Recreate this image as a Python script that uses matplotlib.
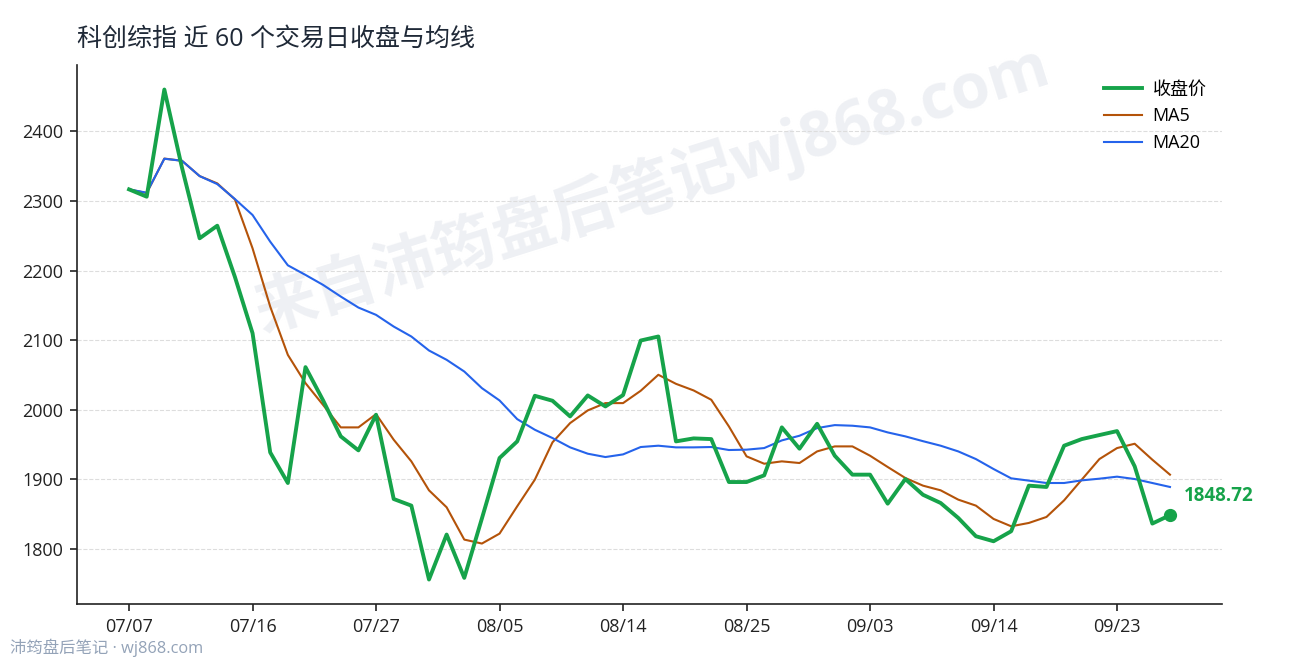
import matplotlib
matplotlib.use("Agg")
import matplotlib.pyplot as plt
import numpy as np

plt.rcParams['font.family'] = ['Open Sans', 'Noto Sans CJK SC', 'DejaVu Sans']

# 收盘价 (60 trading days)
close = [2316.8, 2306.3, 2460.3, 2348.0, 2246.5, 2264.6, 2191.0, 2110.1, 1938.9, 1894.9,
         2061.4, 2013.5, 1961.9, 1941.8, 1993.0, 1871.9, 1862.4, 1756.2, 1820.8, 1758.6,
         1844.0, 1930.8, 1954.7, 2020.2, 2013.1, 1990.6, 2020.7, 2004.9, 2021.2, 2099.6,
         2105.4, 1954.7, 1959.0, 1958.0, 1896.3, 1896.3, 1905.9, 1974.8, 1944.2, 1980.0,
         1934.1, 1906.9, 1906.9, 1865.2, 1900.6, 1878.0, 1866.2, 1844.7, 1818.4, 1811.2,
         1825.6, 1891.1, 1889.2, 1948.5, 1958.0, 1963.8, 1969.5, 1918.8, 1836.6, 1848.72]

ma5 = [2316.8, 2311.5, 2361.1, 2357.9, 2335.9, 2325.4, 2302.4, 2232.1, 2148.4, 2079.0,
       2038.4, 2007.0, 1974.8, 1974.8, 1993.9, 1957.1, 1926.0, 1884.4, 1860.0, 1813.6,
       1807.9, 1822.2, 1861.4, 1899.7, 1953.3, 1981.0, 1999.2, 2009.7, 2009.7, 2027.4,
       2050.4, 2037.4, 2027.9, 2014.5, 1976.2, 1933.2, 1922.6, 1926.0, 1923.6, 1940.3,
       1947.5, 1947.5, 1934.1, 1917.9, 1902.1, 1891.1, 1884.4, 1871.0, 1862.4, 1843.3,
       1832.7, 1837.5, 1846.1, 1870.0, 1899.7, 1929.3, 1945.1, 1951.3, 1928.4, 1906.9]

ma20 = [2316.8, 2312.0, 2360.8, 2357.9, 2335.9, 2324.4, 2302.9, 2280.0, 2241.7, 2207.7,
        2193.9, 2179.5, 2162.8, 2147.0, 2136.5, 2119.7, 2105.4, 2085.3, 2071.9, 2055.1,
        2031.2, 2013.5, 1986.7, 1971.4, 1959.5, 1946.1, 1937.0, 1932.2, 1936.0, 1946.6,
        1948.5, 1946.1, 1946.1, 1946.6, 1942.3, 1942.8, 1945.1, 1956.1, 1962.8, 1973.8,
        1978.1, 1977.2, 1974.8, 1967.6, 1961.9, 1955.0, 1948.5, 1940.3, 1929.3, 1915.0,
        1901.6, 1898.3, 1894.9, 1894.9, 1898.7, 1901.1, 1904.0, 1900.6, 1894.9, 1889.2]

tick_labels = ["07/07", "07/16", "07/27", "08/05", "08/14", "08/25", "09/03", "09/14", "09/23"]

GREEN = "#16a34a"
ORANGE = "#b45309"
BLUE = "#2563eb"

x = np.arange(len(close))

fig = plt.figure(figsize=(12.9, 6.6), dpi=100)
ax = fig.add_axes([0.0597, 0.0848, 0.8876, 0.8167])

# watermark
ax.text(0.505, 0.715, "来自沛筠盘后笔记wj868.com", transform=fig.transFigure,
        fontsize=45, fontweight="bold", color="#eef0f4", rotation=17.5,
        ha="center", va="center", rotation_mode="anchor", zorder=0.1)

ax.plot(x, close, color=GREEN, lw=2.8, label="收盘价", zorder=3)
ax.plot(x, ma5, color=ORANGE, lw=1.5, label="MA5", zorder=2)
ax.plot(x, ma20, color=BLUE, lw=1.5, label="MA20", zorder=2)

ax.plot(x[-1], close[-1], "o", color=GREEN, ms=8.5, zorder=4)
ax.annotate(f"{close[-1]:.2f}", (x[-1], close[-1]), xytext=(10, 14),
            textcoords="offset points", color=GREEN, fontsize=13.5,
            fontweight="bold", ha="left", va="center")

ax.set_xticks(x[::7])
ax.set_xticklabels(tick_labels)
ax.set_yticks(np.arange(1800, 2401, 100))
ax.margins(x=0.05, y=0.05)

ax.grid(axis="y", linestyle="--", color="#dddddd", lw=0.8)
ax.set_axisbelow(True)
for s in ["top", "right"]:
    ax.spines[s].set_visible(False)
for s in ["left", "bottom"]:
    ax.spines[s].set_color("#222222")
    ax.spines[s].set_linewidth(1.2)
ax.tick_params(length=5, width=1.2, pad=5, labelsize=13, colors="#222222")

ax.set_title("科创综指 近 60 个交易日收盘与均线", loc="left", fontsize=18,
             color="#1f2937", pad=14)
ax.legend(loc="upper right", frameon=False, fontsize=13, labelspacing=0.5,
          borderaxespad=0.45, handletextpad=0.6, handlelength=2.1)

fig.text(0.008, 0.018, "沛筠盘后笔记 · wj868.com", fontsize=11.8, color="#94a3b8",
         ha="left", va="center")

fig.savefig("out.png", dpi=100)
